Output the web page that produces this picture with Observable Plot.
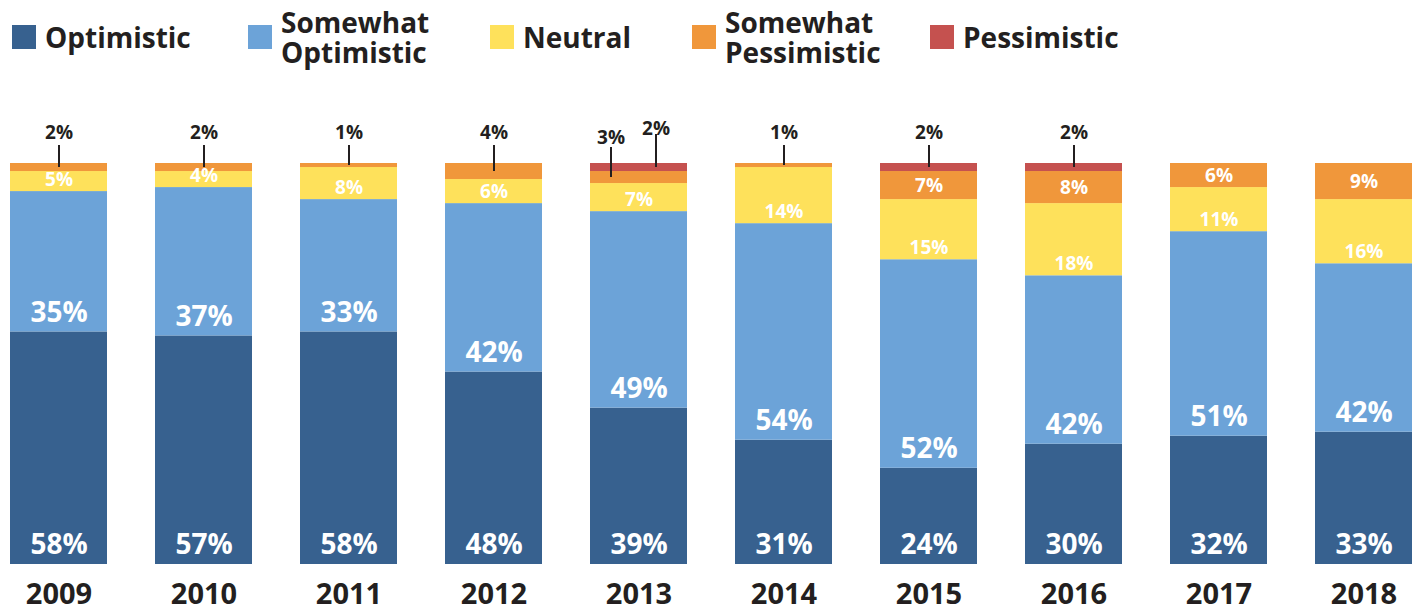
<!DOCTYPE html>
<html><head><meta charset="utf-8">
<script src="https://cdn.jsdelivr.net/npm/d3@7"></script>
<script src="https://cdn.jsdelivr.net/npm/@observablehq/plot@0.6"></script>
<style>
body{margin:0;background:#fff;font-family:"Open Sans",sans-serif;color:#231f20;}
#legend{position:relative;height:100px;width:1421px;}
.item{position:absolute;top:0;height:74px;display:flex;align-items:center;}
.sw{width:24px;height:24px;margin-right:9px;flex:none;}
.lab{font-size:28px;font-weight:700;white-space:nowrap;}
.lab div{height:30px;line-height:30px;}
</style></head><body>
<div id="legend"></div><div id="chart"></div>
<script>
const years = ["2009","2010","2011","2012","2013","2014","2015","2016","2017","2018"];
const categories = ["Optimistic","Somewhat Optimistic","Neutral","Somewhat Pessimistic","Pessimistic"];
const optimistic          = [58,57,58,48,39,31,24,30,32,33];
const somewhatOptimistic  = [35,37,33,42,49,54,52,42,51,42];
const neutral             = [5,4,8,6,7,14,15,18,11,16];
const somewhatPessimistic = [2,2,1,4,3,1,7,8,6,9];
const pessimistic         = [0,0,0,0,2,0,2,2,0,0];
const colors = ["#37618f","#6ca3d8","#fee15b","#f0973b","#c5514f"];

const series = [optimistic, somewhatOptimistic, neutral, somewhatPessimistic, pessimistic];

// Legend
const legendLefts = [12, 248, 490, 692, 930];
const legendLines = [["Optimistic"],["Somewhat","Optimistic"],["Neutral"],["Somewhat","Pessimistic"],["Pessimistic"]];
const legend = document.getElementById("legend");
categories.forEach((c, i) => {
  const it = document.createElement("div");
  it.className = "item";
  it.style.left = legendLefts[i] + "px";
  it.innerHTML = `<div class="sw" style="background:${colors[i]}"></div><div class="lab">${legendLines[i].map(t => `<div>${t}</div>`).join("")}</div>`;
  legend.appendChild(it);
});

// Rows with cumulative bounds
const rows = [];
years.forEach((year, i) => {
  let lo = 0;
  categories.forEach((category, j) => {
    const value = series[j][i];
    rows.push({year, category, value, lo, hi: lo + value, mid: lo + value / 2});
    lo += value;
  });
});

const W = 1421, H = 511, MT = 63, MB = 47;
const pxPerUnit = (H - MT - MB) / 100;

const big = rows.filter(d => (d.category === "Optimistic" || d.category === "Somewhat Optimistic"));
const neut = rows.filter(d => d.category === "Neutral" && d.value > 0);
const pessInside = rows.filter(d => d.category === "Somewhat Pessimistic" && d.value >= 5);
const callRaw = rows.filter(d => (d.category === "Somewhat Pessimistic" || d.category === "Pessimistic") && d.value > 0 && d.value < 5);
const callouts = [];
years.forEach(y => {
  const g = callRaw.filter(d => d.year === y);
  g.forEach((d, k) => {
    let lay;
    if (g.length === 1) lay = {dx: 0, tdy: -31, top: 18};
    else lay = k === 0 ? {dx: -28, tdy: -26, top: 16} : {dx: 17, tdy: -35, top: 29};
    callouts.push({...d, ...lay});
  });
});

const ink = "#231f20";
const marks = [
  Plot.barY(rows, {x: "year", y1: "lo", y2: "hi", fill: "category"}),
  Plot.text(big, {x: "year", y: "lo", text: d => d.value + "%", dy: -19, fill: "white", fontSize: 28, fontWeight: 700}),
  Plot.text(neut, {x: "year", y: "lo", text: d => d.value + "%", dy: -12, fill: "white", fontSize: 19, fontWeight: 700}),
  Plot.text(pessInside, {x: "year", y: "mid", text: d => d.value + "%", fill: "white", fontSize: 19, fontWeight: 700}),
  Plot.text(years, {x: d => d, y: 0, dy: 30, text: d => d, fill: ink, fontSize: 29, fontWeight: 700})
];
callouts.forEach(d => {
  marks.push(Plot.ruleX([d], {x: "year", y1: "mid", y2: 100 + d.top / pxPerUnit, dx: d.dx, stroke: ink, strokeWidth: 2}));
  marks.push(Plot.text([d], {x: "year", y: 100, dx: d.dx, dy: d.tdy, text: v => v.value + "%", fill: ink, fontSize: 19, fontWeight: 700}));
});

const chart = Plot.plot({
  width: W, height: H,
  marginTop: MT, marginBottom: MB, marginLeft: 9, marginRight: 8,
  style: {fontFamily: "Open Sans", background: "white", overflow: "visible"},
  x: {type: "band", domain: years, paddingInner: 0.332, paddingOuter: 0, axis: null},
  y: {domain: [0, 100], axis: null},
  color: {domain: categories, range: colors},
  marks
});
document.getElementById("chart").appendChild(chart);
</script>
</body></html>
